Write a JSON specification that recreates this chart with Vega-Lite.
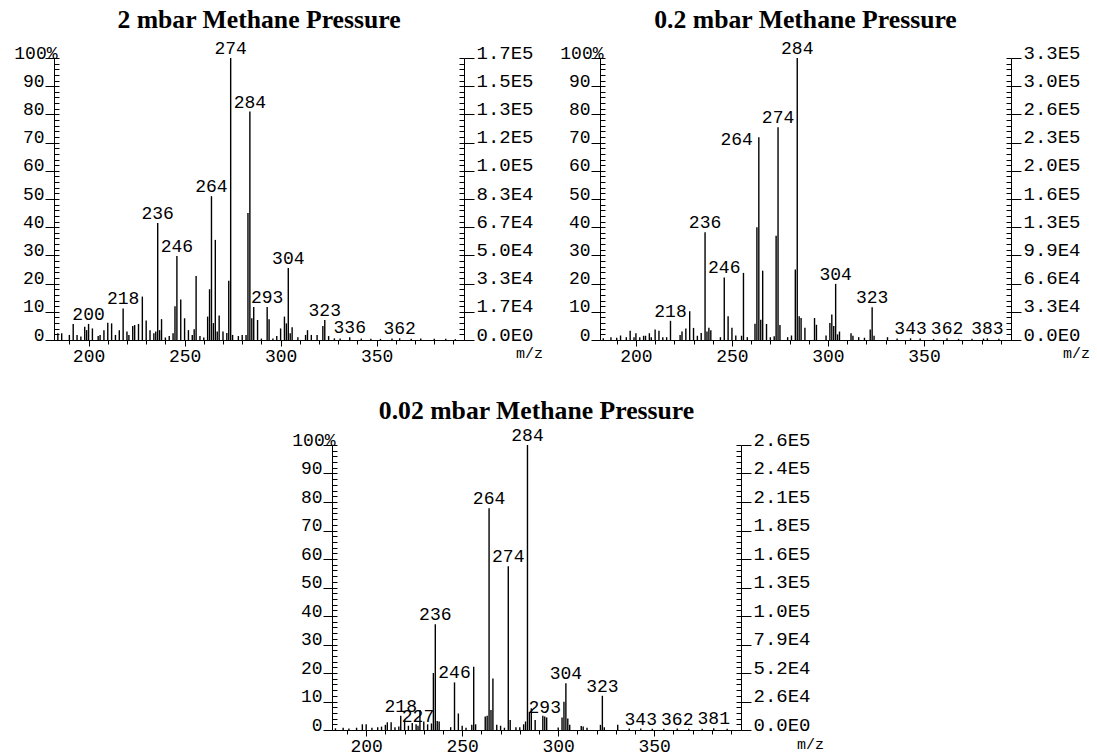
{
  "$schema": "https://vega.github.io/schema/vega-lite/v6.json",
  "padding": {"left": 13, "top": 7, "right": 0, "bottom": 0},
  "config": {
    "view": {"stroke": null},
    "axis": {"domainColor": "black", "tickColor": "black", "labelColor": "black", "labelFont": "Liberation Mono", "labelFontSize": 18, "domainWidth": 1, "tickWidth": 1, "titleColor": "black", "gridColor": "black", "labelOverlap": false, "labelFlush": false},
    "title": {"font": "Liberation Serif", "fontSize": 25.7, "fontWeight": "bold", "color": "black", "anchor": "middle"}
  },
  "datasets": {
    "p1": [
      {"mz":184,"pct":2.4},{"mz":186,"pct":2.4},{"mz":190,"pct":1.8},{"mz":192,"pct":5.7},{"mz":194,"pct":1.8},{"mz":196,"pct":1.2},{"mz":198,"pct":4.7},{"mz":199,"pct":3.5},{"mz":200,"pct":5.7,"label":"200"},{"mz":202,"pct":4.1},{"mz":205,"pct":1.4},{"mz":206,"pct":1.8},{"mz":208,"pct":3.5},{"mz":210,"pct":6.1},{"mz":212,"pct":5.9},{"mz":214,"pct":1.8},{"mz":216,"pct":3.5},{"mz":218,"pct":11.2,"label":"218"},{"mz":220,"pct":3},{"mz":221,"pct":1.8},{"mz":223,"pct":5},{"mz":224,"pct":5.3},{"mz":226,"pct":5.7},{"mz":228,"pct":15.4},{"mz":230,"pct":6.9},{"mz":232,"pct":3.5},{"mz":234,"pct":2.4},{"mz":235,"pct":3},{"mz":236,"pct":41.5,"label":"236"},{"mz":237,"pct":3.5},{"mz":238,"pct":7.4},{"mz":240,"pct":0.9},{"mz":242,"pct":1.4},{"mz":244,"pct":2.4},{"mz":245,"pct":12},{"mz":246,"pct":29.8,"label":"246"},{"mz":248,"pct":14.4},{"mz":250,"pct":7.7},{"mz":252,"pct":3.5},{"mz":254,"pct":1.8},{"mz":255,"pct":3.8},{"mz":256,"pct":22.7},{"mz":258,"pct":1.4},{"mz":260,"pct":0.9},{"mz":262,"pct":8.3},{"mz":263,"pct":18},{"mz":264,"pct":51,"label":"264"},{"mz":265,"pct":6},{"mz":266,"pct":35.5},{"mz":267,"pct":3},{"mz":268,"pct":8.7},{"mz":270,"pct":3},{"mz":272,"pct":2.5},{"mz":273,"pct":21},{"mz":274,"pct":100,"label":"274"},{"mz":275,"pct":1.8},{"mz":278,"pct":1.4},{"mz":280,"pct":1.8},{"mz":282,"pct":1.8},{"mz":283,"pct":45},{"mz":284,"pct":81,"label":"284"},{"mz":285,"pct":7.7},{"mz":286,"pct":11.7},{"mz":288,"pct":7.1},{"mz":290,"pct":0.5},{"mz":293,"pct":11.7,"label":"293"},{"mz":294,"pct":7.4},{"mz":296,"pct":0.5},{"mz":298,"pct":1.4},{"mz":300,"pct":4.1},{"mz":302,"pct":8.3},{"mz":303,"pct":5.9},{"mz":304,"pct":25.5,"label":"304"},{"mz":305,"pct":2.4},{"mz":306,"pct":4.5},{"mz":309,"pct":1},{"mz":313,"pct":1.8},{"mz":314,"pct":3.5},{"mz":316,"pct":1.8},{"mz":319,"pct":1.8},{"mz":322,"pct":5},{"mz":323,"pct":7.1,"label":"323"},{"mz":325,"pct":1.4},{"mz":328,"pct":0.6},{"mz":331,"pct":0.5},{"mz":336,"pct":1,"label":"336"},{"mz":342,"pct":0.5},{"mz":347,"pct":0.4},{"mz":352,"pct":0.4},{"mz":358,"pct":0.5},{"mz":362,"pct":0.6,"label":"362"},{"mz":368,"pct":0.4},{"mz":373,"pct":0.5},{"mz":380,"pct":0.4},{"mz":386,"pct":0.4},{"mz":391,"pct":0.3}
    ],
    "p2": [
      {"mz":183,"pct":0.6},{"mz":187,"pct":1},{"mz":190,"pct":0.8},{"mz":192,"pct":1.6},{"mz":195,"pct":1},{"mz":197,"pct":3.3},{"mz":199,"pct":1},{"mz":200,"pct":2.4},{"mz":202,"pct":1},{"mz":204,"pct":1.5},{"mz":205,"pct":1.5},{"mz":207,"pct":2.4},{"mz":208,"pct":1},{"mz":210,"pct":3.7},{"mz":212,"pct":3.3},{"mz":214,"pct":1},{"mz":216,"pct":1},{"mz":218,"pct":6.8,"label":"218"},{"mz":223,"pct":1.8},{"mz":224,"pct":3},{"mz":226,"pct":4.1},{"mz":228,"pct":10.2},{"mz":230,"pct":4.3},{"mz":232,"pct":1.5},{"mz":234,"pct":2.5},{"mz":236,"pct":38.2,"label":"236"},{"mz":237,"pct":3},{"mz":238,"pct":4.3},{"mz":239,"pct":3.5},{"mz":244,"pct":1},{"mz":246,"pct":22.2,"label":"246"},{"mz":248,"pct":8.4},{"mz":250,"pct":4.3},{"mz":252,"pct":1.6},{"mz":255,"pct":1.5},{"mz":256,"pct":23.8},{"mz":258,"pct":1},{"mz":262,"pct":5.8},{"mz":263,"pct":40},{"mz":264,"pct":71.9,"label":"264"},{"mz":265,"pct":7.2},{"mz":266,"pct":24.6},{"mz":268,"pct":5.7},{"mz":270,"pct":1},{"mz":272,"pct":1.3},{"mz":273,"pct":37},{"mz":274,"pct":75.4,"label":"274"},{"mz":275,"pct":5.3},{"mz":279,"pct":1},{"mz":281,"pct":1.6},{"mz":283,"pct":25},{"mz":284,"pct":100,"label":"284"},{"mz":285,"pct":8.4},{"mz":286,"pct":7.8},{"mz":288,"pct":4.3},{"mz":293,"pct":7.8},{"mz":294,"pct":5.4},{"mz":299,"pct":1.6},{"mz":301,"pct":6},{"mz":302,"pct":9},{"mz":303,"pct":5},{"mz":304,"pct":19.9,"label":"304"},{"mz":305,"pct":2},{"mz":306,"pct":3},{"mz":312,"pct":2.4},{"mz":313,"pct":1.5},{"mz":316,"pct":1},{"mz":319,"pct":0.8},{"mz":322,"pct":3.7},{"mz":323,"pct":11.6,"label":"323"},{"mz":324,"pct":1.5},{"mz":331,"pct":1},{"mz":336,"pct":0.5},{"mz":343,"pct":0.6,"label":"343"},{"mz":348,"pct":0.5},{"mz":355,"pct":0.4},{"mz":362,"pct":0.6,"label":"362"},{"mz":368,"pct":0.4},{"mz":375,"pct":0.4},{"mz":381,"pct":0.5},{"mz":383,"pct":0.6,"label":"383"},{"mz":389,"pct":0.4}
    ],
    "p3": [
      {"mz":184,"pct":0.6},{"mz":188,"pct":0.8},{"mz":191,"pct":0.5},{"mz":195,"pct":0.8},{"mz":198,"pct":2},{"mz":200,"pct":2},{"mz":203,"pct":0.8},{"mz":206,"pct":1},{"mz":208,"pct":1.2},{"mz":210,"pct":1.8},{"mz":211,"pct":2.7},{"mz":213,"pct":2.7},{"mz":215,"pct":1},{"mz":217,"pct":1.2},{"mz":218,"pct":5,"label":"218"},{"mz":220,"pct":3.5},{"mz":222,"pct":1.5},{"mz":224,"pct":2.5},{"mz":226,"pct":2},{"mz":227,"pct":1.5,"label":"227"},{"mz":228,"pct":7},{"mz":230,"pct":3},{"mz":232,"pct":2},{"mz":234,"pct":2.3},{"mz":235,"pct":20},{"mz":236,"pct":37.1,"label":"236"},{"mz":237,"pct":3.2},{"mz":238,"pct":3},{"mz":244,"pct":1},{"mz":246,"pct":16.7,"label":"246"},{"mz":248,"pct":5.8},{"mz":250,"pct":1.5},{"mz":252,"pct":0.8},{"mz":255,"pct":1.8},{"mz":256,"pct":22.2},{"mz":257,"pct":2},{"mz":262,"pct":4.7},{"mz":263,"pct":5},{"mz":264,"pct":77.8,"label":"264"},{"mz":265,"pct":7},{"mz":266,"pct":18.1},{"mz":268,"pct":1.8},{"mz":270,"pct":1.5},{"mz":272,"pct":0.8},{"mz":274,"pct":57.5,"label":"274"},{"mz":275,"pct":3.5},{"mz":278,"pct":1},{"mz":280,"pct":1},{"mz":282,"pct":2},{"mz":283,"pct":3},{"mz":284,"pct":100,"label":"284"},{"mz":285,"pct":6.4},{"mz":286,"pct":7.6},{"mz":288,"pct":3.5},{"mz":292,"pct":5},{"mz":293,"pct":4.7,"label":"293"},{"mz":294,"pct":4.4},{"mz":300,"pct":0.9},{"mz":302,"pct":4.4},{"mz":303,"pct":9.9},{"mz":304,"pct":16.4,"label":"304"},{"mz":305,"pct":4},{"mz":306,"pct":1.8},{"mz":312,"pct":1.4},{"mz":313,"pct":1.2},{"mz":315,"pct":0.8},{"mz":322,"pct":1.8},{"mz":323,"pct":12,"label":"323"},{"mz":324,"pct":1},{"mz":331,"pct":1.8},{"mz":337,"pct":0.5},{"mz":343,"pct":0.5,"label":"343"},{"mz":349,"pct":0.4},{"mz":355,"pct":0.4},{"mz":362,"pct":0.5,"label":"362"},{"mz":368,"pct":0.4},{"mz":375,"pct":0.4},{"mz":381,"pct":0.6,"label":"381"},{"mz":388,"pct":0.4}
    ]
  },
  "spacing": 33,
  "vconcat": [
    {
      "spacing": 16,
      "hconcat": [
        {
          "width": 410, "height": 282,
          "title": {"text": "2 mbar Methane Pressure", "offset": 6},
          "data": {"name": "p1"},
          "encoding": {
            "x": {"field": "mz", "type": "quantitative", "scale": {"domain": [182, 395.5], "nice": false, "zero": false},
              "axis": {"values": [190,200,210,220,230,240,250,260,270,280,290,300,310,320,330,340,350,360,370,380,390], "labelExpr": "datum.value % 50 === 0 ? datum.label : ''", "tickSize": {"condition": {"test": "datum.value % 50 === 0", "value": 6}, "value": 4}, "labelPadding": 1, "title": "m/z", "titleFont": "Liberation Mono", "titleFontSize": 15, "titleFontWeight": "normal", "titleX": 475, "titleY": 12, "titleAlign": "center", "titleBaseline": "middle", "grid": false}}
          },
          "layer": [
            {"mark": {"type": "rule", "color": "black", "strokeWidth": 1.4},
             "encoding": {"y": {"field": "pct", "type": "quantitative", "scale": {"domain": [0, 100]},
               "axis": {"orient": "left", "values": [0,2,4,6,8,10,12,14,16,18,20,22,24,26,28,30,32,34,36,38,40,42,44,46,48,50,52,54,56,58,60,62,64,66,68,70,72,74,76,78,80,82,84,86,88,90,92,94,96,98,100], "labelExpr": "datum.value % 10 === 0 ? (datum.value === 100 ? '100%' : datum.label) : ''", "tickSize": {"condition": {"test": "datum.value % 10 === 0", "value": 9}, "value": 0}, "labelPadding": {"condition": {"test": "datum.value === 100", "value": -12}, "value": 1}, "labelBaseline": "alphabetic", "grid": true, "gridDash": [5, 1000], "title": null}},
               "y2": {"datum": 0}}},
            {"transform": [{"filter": "datum.label"}],
             "mark": {"type": "text", "font": "Liberation Mono", "fontSize": 18, "baseline": "alphabetic", "dy": -4, "color": "black"},
             "encoding": {"y": {"field": "pct", "type": "quantitative", "scale": {"domain": [0, 100]},
               "axis": {"orient": "right", "values": [0,2,4,6,8,10,12,14,16,18,20,22,24,26,28,30,32,34,36,38,40,42,44,46,48,50,52,54,56,58,60,62,64,66,68,70,72,74,76,78,80,82,84,86,88,90,92,94,96,98,100], "labelExpr": "datum.value % 10 === 0 ? ['0.0E0','1.7E4','3.3E4','5.0E4','6.7E4','8.3E4','1.0E5','1.2E5','1.3E5','1.5E5','1.7E5'][datum.value / 10] : ''", "tickSize": {"condition": {"test": "datum.value % 10 === 0", "value": 10}, "value": 0}, "labelPadding": 2, "labelFontSize": 19, "labelBaseline": "alphabetic", "grid": true, "gridDash": [5, 1000], "title": null}},
               "text": {"field": "label"}}}
          ],
          "resolve": {"scale": {"y": "independent"}}
        },
        {
          "width": 411, "height": 282,
          "title": {"text": "0.2 mbar Methane Pressure", "offset": 6},
          "data": {"name": "p2"},
          "encoding": {
            "x": {"field": "mz", "type": "quantitative", "scale": {"domain": [181.3, 395.3], "nice": false, "zero": false},
              "axis": {"values": [190,200,210,220,230,240,250,260,270,280,290,300,310,320,330,340,350,360,370,380,390], "labelExpr": "datum.value % 50 === 0 ? datum.label : ''", "tickSize": {"condition": {"test": "datum.value % 50 === 0", "value": 6}, "value": 4}, "labelPadding": 1, "title": "m/z", "titleFont": "Liberation Mono", "titleFontSize": 15, "titleFontWeight": "normal", "titleX": 476, "titleY": 12, "titleAlign": "center", "titleBaseline": "middle", "grid": false}}
          },
          "layer": [
            {"mark": {"type": "rule", "color": "black", "strokeWidth": 1.4},
             "encoding": {"y": {"field": "pct", "type": "quantitative", "scale": {"domain": [0, 100]},
               "axis": {"orient": "left", "values": [0,2,4,6,8,10,12,14,16,18,20,22,24,26,28,30,32,34,36,38,40,42,44,46,48,50,52,54,56,58,60,62,64,66,68,70,72,74,76,78,80,82,84,86,88,90,92,94,96,98,100], "labelExpr": "datum.value % 10 === 0 ? (datum.value === 100 ? '100%' : datum.label) : ''", "tickSize": {"condition": {"test": "datum.value % 10 === 0", "value": 9}, "value": 0}, "labelPadding": {"condition": {"test": "datum.value === 100", "value": -12}, "value": 1}, "labelBaseline": "alphabetic", "grid": true, "gridDash": [5, 1000], "title": null}},
               "y2": {"datum": 0}}},
            {"transform": [{"filter": "datum.label && datum.label !== '264'"}],
             "mark": {"type": "text", "font": "Liberation Mono", "fontSize": 18, "baseline": "alphabetic", "dy": -4, "color": "black"},
             "encoding": {"y": {"field": "pct", "type": "quantitative", "scale": {"domain": [0, 100]},
               "axis": {"orient": "right", "values": [0,2,4,6,8,10,12,14,16,18,20,22,24,26,28,30,32,34,36,38,40,42,44,46,48,50,52,54,56,58,60,62,64,66,68,70,72,74,76,78,80,82,84,86,88,90,92,94,96,98,100], "labelExpr": "datum.value % 10 === 0 ? ['0.0E0','3.3E4','6.6E4','9.9E4','1.3E5','1.6E5','2.0E5','2.3E5','2.6E5','3.0E5','3.3E5'][datum.value / 10] : ''", "tickSize": {"condition": {"test": "datum.value % 10 === 0", "value": 10}, "value": 0}, "labelPadding": 2, "labelFontSize": 19, "labelBaseline": "alphabetic", "grid": true, "gridDash": [5, 1000], "title": null}},
               "text": {"field": "label"}}},
            {"transform": [{"filter": "datum.label === '264'"}],
             "mark": {"type": "text", "font": "Liberation Mono", "fontSize": 18, "baseline": "alphabetic", "align": "right", "dx": -6, "dy": 8, "color": "black"},
             "encoding": {"y": {"field": "pct", "type": "quantitative", "scale": {"domain": [0, 100]}, "axis": null},
               "text": {"field": "label"}}}
          ],
          "resolve": {"scale": {"y": "independent"}}
        }
      ]
    },
    {
      "spacing": 17,
      "hconcat": [
        {"width": 220, "height": 10, "data": {"values": []}, "mark": {"type": "rule", "opacity": 0}, "encoding": {}},
        {
          "width": 409, "height": 285,
          "title": {"text": "0.02 mbar Methane Pressure", "offset": 2},
          "data": {"name": "p3"},
          "encoding": {
            "x": {"field": "mz", "type": "quantitative", "scale": {"domain": [182.2, 395.2], "nice": false, "zero": false},
              "axis": {"values": [190,200,210,220,230,240,250,260,270,280,290,300,310,320,330,340,350,360,370,380,390], "labelExpr": "datum.value % 50 === 0 ? datum.label : ''", "tickSize": {"condition": {"test": "datum.value % 50 === 0", "value": 6}, "value": 4}, "labelPadding": 1, "title": "m/z", "titleFont": "Liberation Mono", "titleFontSize": 15, "titleFontWeight": "normal", "titleX": 478, "titleY": 13, "titleAlign": "center", "titleBaseline": "middle", "grid": false}}
          },
          "layer": [
            {"mark": {"type": "rule", "color": "black", "strokeWidth": 1.4},
             "encoding": {"y": {"field": "pct", "type": "quantitative", "scale": {"domain": [0, 100]},
               "axis": {"orient": "left", "values": [0,2,4,6,8,10,12,14,16,18,20,22,24,26,28,30,32,34,36,38,40,42,44,46,48,50,52,54,56,58,60,62,64,66,68,70,72,74,76,78,80,82,84,86,88,90,92,94,96,98,100], "labelExpr": "datum.value % 10 === 0 ? (datum.value === 100 ? '100%' : datum.label) : ''", "tickSize": {"condition": {"test": "datum.value % 10 === 0", "value": 9}, "value": 0}, "labelPadding": {"condition": {"test": "datum.value === 100", "value": -12}, "value": 1}, "labelBaseline": "alphabetic", "grid": true, "gridDash": [5, 1000], "title": null}},
               "y2": {"datum": 0}}},
            {"transform": [{"filter": "datum.label"}],
             "mark": {"type": "text", "font": "Liberation Mono", "fontSize": 18, "baseline": "alphabetic", "dy": -4, "color": "black"},
             "encoding": {"y": {"field": "pct", "type": "quantitative", "scale": {"domain": [0, 100]},
               "axis": {"orient": "right", "values": [0,2,4,6,8,10,12,14,16,18,20,22,24,26,28,30,32,34,36,38,40,42,44,46,48,50,52,54,56,58,60,62,64,66,68,70,72,74,76,78,80,82,84,86,88,90,92,94,96,98,100], "labelExpr": "datum.value % 10 === 0 ? ['0.0E0','2.6E4','5.2E4','7.9E4','1.0E5','1.3E5','1.6E5','1.8E5','2.1E5','2.4E5','2.6E5'][datum.value / 10] : ''", "tickSize": {"condition": {"test": "datum.value % 10 === 0", "value": 10}, "value": 0}, "labelPadding": 2, "labelFontSize": 19, "labelBaseline": "alphabetic", "grid": true, "gridDash": [5, 1000], "title": null}},
               "text": {"field": "label"}}}
          ],
          "resolve": {"scale": {"y": "independent"}}
        }
      ]
    }
  ]
}
